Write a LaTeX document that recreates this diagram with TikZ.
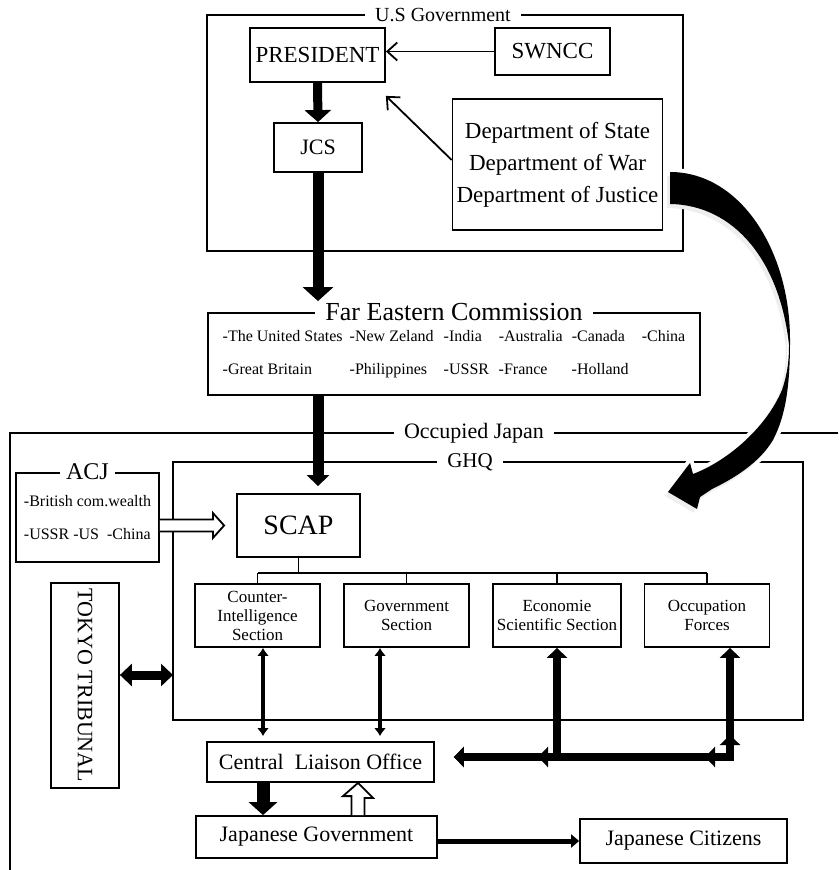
\documentclass[tikz,border=0pt]{standalone}
\usepackage{fontspec}
\setmainfont{Liberation Serif}
\usetikzlibrary{positioning,calc,arrows.meta,shadows}

\newcommand{\fs}[2]{\fontsize{#1}{#2}\selectfont}

\tikzstyle{frame}=[draw, line width=0.9pt, inner sep=0pt, outer sep=0pt]
\tikzstyle{frametitle}=[fill=white, inner xsep=5pt, inner ysep=1pt]
\tikzstyle{box}=[draw, line width=0.9pt, fill=white, inner sep=2pt, align=center]
\tikzstyle{section}=[box, minimum width=62.5pt, minimum height=31.5pt, font=\fs{8.5}{9.5}]
\tikzstyle{slim}=[line width=0.9pt, -{Straight Barb[length=5pt,width=9pt]}]
\tikzstyle{fat}=[line width=5pt, -{Triangle[length=6pt,width=14pt]}]
\tikzstyle{duo}=[line width=2pt, {Latex[length=4pt,width=6pt]}-{Latex[length=4pt,width=6pt]}]
\tikzstyle{fatduo}=[line width=4pt, {Triangle[length=5pt,width=10pt]}-{Triangle[length=5pt,width=10pt]}]
\tikzstyle{fatone}=[line width=4pt, -{Triangle[length=5pt,width=10pt]}]
\tikzstyle{hollow}=[draw, line width=0.9pt, fill=white, line join=miter]
\tikzstyle{swoop}=[fill=black, preaction={draw=white, line width=4pt},
  drop shadow={shadow xshift=-1.5pt, shadow yshift=-2pt, fill=gray!50, opacity=.25}]

\begin{document}
\begin{tikzpicture}[x=0.5pt,y=-0.5pt]
\useasboundingbox (0,0) rectangle (838,870);

% U.S Government
\node[frame, minimum width=238pt, minimum height=118pt] (usg) at (445,133) {};
\node[frametitle, font=\fs{10}{12}] (usgtitle) at (443,15) {U.S Government};
\node[box, minimum width=67.5pt, minimum height=27pt, font=\fs{11.5}{14}] (pres) at (317.5,55) {PRESIDENT};
\node[box, minimum width=57.5pt, minimum height=23.5pt, font=\fs{11.5}{14}] (swncc) at (552.5,51.5) {SWNCC};
\node[box, minimum width=44pt, minimum height=24.5pt, font=\fs{11}{13}] (jcs) at (318,147.5) {JCS};
\node[box, minimum width=104.5pt, minimum height=65.5pt, font=\fs{11.5}{16}] (dept) at (557.5,164.5)
  {Department of State\\Department of War\\Department of Justice};

\draw[slim] (swncc.west) -- (swncc.west -| pres.east);
\draw[slim] ($(dept.west)+(0,-4.5)$) -- ($(pres.south east)+(0,13)$);
\draw[fat, line width=4.5pt, -{Triangle[length=6pt,width=13pt]}] (pres.south) -- (jcs.north);

% Far Eastern Commission
\node[box, minimum width=246pt, minimum height=41pt, font=\fs{8}{9.5}] (fec) at (454,354)
  {\begin{tabular}{@{}p{63.5pt}@{}p{47pt}@{}p{27.5pt}@{}p{36.5pt}@{}p{35pt}@{}l@{}}
   -The United States & -New Zeland & -India & -Australia & -Canada & -China\\[7pt]
   -Great Britain & -Philippines & -USSR & -France & -Holland &
   \end{tabular}};
\node[frametitle, font=\fs{13}{15}] (fectitle) at (fec.north) {Far Eastern Commission};
\draw[fat, line width=5.5pt, -{Triangle[length=7pt,width=15pt]}] (jcs.south) -- ($(jcs.south |- fec.north)+(0,-11)$);

% Occupied Japan
\draw[frame] (838,433) -- (10,433) -- (10,870);
\node[frametitle, font=\fs{11}{13}] (ojtitle) at (474,433) {Occupied Japan};

% GHQ
\node[frame, minimum width=315pt, minimum height=129pt] (ghq) at (488,591) {};
\node[frametitle, font=\fs{10.5}{12}] (ghqtitle) at (470,462) {GHQ};

% ACJ
\node[box, minimum width=71.5pt, minimum height=44.5pt, font=\fs{8}{16.5}, align=left] (acj) at (87.5,517.5)
  {-British com.wealth\\-USSR -US\ \ -China};
\node[frametitle, inner xsep=3pt, font=\fs{12}{14}] (acjtitle) at (acj.north) {ACJ};

\node[box, minimum width=61.5pt, minimum height=31.5pt, font=\fs{14}{16}] (scap) at (298.5,525.5) {SCAP};
\draw[fat, line width=5.5pt, -{Triangle[length=5.5pt,width=11pt]}] (jcs.south |- fec.south) -- ($(jcs.south |- scap.north)+(0,-7)$);

\coordinate (acjout) at (acj.east |- scap.west);
\draw[hollow] ($(acjout)+(0,-6)$) -- ++(53,0) -- ++(0,-6.5) -- ($(scap.west)+(-12,0)$)
  -- ($(acjout)+(53,12.5)$) -- ++(0,-6.5) -- ($(acjout)+(0,6)$);

% sections
\node[section] (ci) at (257.5,615.5) {Counter-\\Intelligence\\Section};
\node[section] (gs) at (406.5,615.5) {Government\\Section};
\node[section] (ess) at (557,615.5) {Economie\\Scientific Section};
\node[section] (of) at (707,615.5) {Occupation\\Forces};

\coordinate (split) at ($(scap.south)+(0,15)$);
\draw[frame] (scap.south) -- (split);
\draw[frame] (ci.north |- split) -- (of.north |- split);
\foreach \s in {ci,gs,ess,of}
  \draw[frame] (\s.north) -- (\s.north |- split);

% Tokyo Tribunal
\node[box, minimum width=102.5pt, minimum height=34pt, rotate=-90, font=\fs{11}{13}] (tt) at (85,685.5) {TOKYO TRIBUNAL};
\draw[line width=4.5pt, {Triangle[length=6pt,width=11pt]}-{Triangle[length=6pt,width=11pt]}]
  ($(tt.north)+(0,-10.5)$) -- ($(tt.north -| ghq.west)+(0,-10.5)$);

% Japanese side
\node[box, minimum width=113.5pt, minimum height=20pt, font=\fs{11}{13}] (clo) at (320.5,762) {Central\ \ Liaison Office};
\node[box, minimum width=120.5pt, minimum height=21pt, font=\fs{11}{13}] (jg) at (316.5,837) {Japanese Government};
\node[box, minimum width=103.5pt, minimum height=22pt, font=\fs{11}{13}] (jc) at (683.5,841) {Japanese Citizens};

\draw[duo, shorten >=2.5pt] ($(ci.south)+(5.5,0)$) -- ($(ci.south |- clo.north)+(5.5,0)$);
\draw[duo, shorten >=2.5pt] ($(gs.south)+(-26.5,0)$) -- ($(gs.south |- clo.north)+(-26.5,0)$);

\draw[fatduo] (ess.south) |- ($(clo.east)+(19,-5)$);
\draw[fatduo] ($(of.south)+(23,0)$) |- ($(clo.east)+(19,-5)$);
\draw[fatone] ($(ess.south |- clo.east)+(0,-5)$) -- ++(-19,0);
\draw[fatone] ($(of.south |- clo.east)+(23,-5)$) -- ++(-25,0);
\draw[fatone] ($(of.south |- clo.east)+(23,-5)$) -- ++(0,-22);

\draw[fat, line width=6.5pt, -{Triangle[length=6.5pt,width=14pt]}] ($(clo.south)+(-57.5,0)$) -- ($(clo.south |- jg.north)+(-57.5,0)$);
\coordinate (up) at ($(jg.north)+(41.5,0)$);
\draw[hollow] ($(up)+(-6.5,0)$) -- ++(0,-19) -- ++(-8.5,0) -- (up |- clo.south)
  -- ++(15,15) -- ++(-8.5,0) -- ($(up)+(6.5,0)$);

\draw[line width=2.5pt, -{Triangle[length=4pt,width=6.5pt]}] (jc.west -| jg.east) -- (jc.west);

% curved arrow from the departments to GHQ
\path[swoop] (670,172) .. controls (740,172) and (790,250) .. (790,340)
  .. controls (790,385) and (786,415) .. (773,440)
  .. controls (760,462) and (735,478) .. (712,489)
  -- (700,497) -- (697,509) -- (668,492) -- (690,463) -- (693,474)
  .. controls (725,462) and (765,430) .. (782,390)
  .. controls (788,372) and (789,358) .. (789,345)
  .. controls (780,262) and (735,205) .. (670,204) -- cycle;
\end{tikzpicture}
\end{document}
